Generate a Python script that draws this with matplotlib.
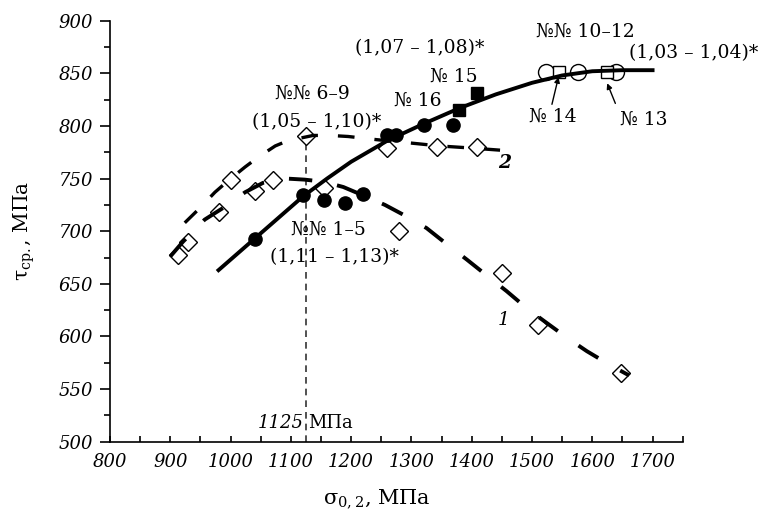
import matplotlib
matplotlib.use("Agg")
import matplotlib.pyplot as plt
from matplotlib.ticker import MultipleLocator

plt.rcParams['font.family'] = ['DejaVu Serif']
plt.rcParams['mathtext.fontset'] = 'dejavuserif'
plt.rcParams['mathtext.default'] = 'regular'

# ---- data ----
diamond_x = [913, 930, 980, 1000, 1040, 1070, 1125, 1155, 1260, 1280, 1342, 1408, 1450, 1510, 1648]
diamond_y = [677, 690, 718, 749, 738, 749, 790, 741, 779, 700, 780, 780, 660, 611, 565]

fcirc_x = [1040, 1120, 1155, 1190, 1220, 1259, 1274, 1321, 1369]
fcirc_y = [693, 734, 730, 727, 735, 791, 791, 801, 801]

fsq_x = [1379, 1409]
fsq_y = [815, 831]

ocirc_x = [1524, 1577, 1640]
ocirc_y = [851, 851, 851]

osq_x = [1545, 1625]
osq_y = [851, 851]

# curve 1 (dashed)
c1_x = [900, 921, 957, 990, 1024, 1054, 1093, 1123, 1154, 1187, 1220, 1256, 1292, 1325,
        1358, 1392, 1427, 1458, 1493, 1524, 1560, 1591, 1629, 1661]
c1_y = [676, 690, 711, 723, 737, 746, 750, 749, 747, 742, 734, 725, 714, 703,
        688, 673, 657, 643, 626, 613, 598, 586, 573, 563]

# curve 2 (dashed)
c2_x = [924, 949, 974, 996, 1024, 1045, 1074, 1095, 1137, 1165, 1195, 1242, 1295, 1347, 1400, 1447]
c2_y = [708, 722, 737, 748, 761, 770, 781, 786, 791, 791, 790, 787, 784, 781, 779, 777]

# solid curve
cs_x = [980, 1040, 1080, 1120, 1160, 1200, 1260, 1320, 1380, 1440, 1500, 1550, 1600, 1650, 1700]
cs_y = [663, 693, 713, 733, 750, 766, 786, 802, 817, 830, 841, 848, 852, 853, 853]

xticks = [800, 900, 1000, 1100, 1200, 1300, 1400, 1500, 1600, 1700]
yticks = [500, 550, 600, 650, 700, 750, 800, 850, 900]

fig = plt.figure(figsize=(7.64, 5.18), dpi=100)
ax = fig.add_axes([0.144, 0.1473, 0.7496, 0.8127])
ax.set_xlim(800, 1750)
ax.set_ylim(500, 900)

for s in ['top', 'right']:
    ax.spines[s].set_visible(False)
for s in ['left', 'bottom']:
    ax.spines[s].set_linewidth(1.2)

ax.set_xticks(xticks)
ax.set_yticks(yticks)
ax.xaxis.set_minor_locator(MultipleLocator(50))
ax.yaxis.set_minor_locator(MultipleLocator(25))
ax.tick_params(axis='x', which='major', direction='in', length=4, width=1.2, pad=8, labelsize=13)
ax.tick_params(axis='x', which='minor', direction='in', length=4, width=1.2)
ax.tick_params(axis='y', which='major', direction='out', length=7, width=1.2, pad=5, labelsize=13)
ax.tick_params(axis='y', which='minor', direction='out', length=4, width=1.2)
for lab in ax.get_xticklabels() + ax.get_yticklabels():
    lab.set_fontstyle('italic')

# vertical reference line
ax.plot([1125, 1125], [500, 790], color='#333333', lw=1.2, dashes=(4, 3), zorder=1)

# open markers
ax.plot(diamond_x, diamond_y, 'D', ms=9.5, mfc='white', mec='black', mew=1.0, ls='none', zorder=2)
ax.plot(ocirc_x, ocirc_y, 'o', ms=11.5, mfc='white', mec='black', mew=1.0, ls='none', zorder=2)
ax.plot(osq_x, osq_y, 's', ms=9, mfc='white', mec='black', mew=1.0, ls='none', zorder=2)

# curves
ax.plot(c1_x, c1_y, color='black', lw=2.8, dashes=(6, 6.5), solid_capstyle='butt', zorder=3)
ax.plot(c2_x, c2_y, color='black', lw=2.4, dashes=(5, 6), zorder=3)
ax.plot(cs_x, cs_y, color='black', lw=2.8, zorder=3)

# filled markers
ax.plot(fcirc_x, fcirc_y, 'o', ms=9.5, color='black', ls='none', zorder=4)
ax.plot(fsq_x, fsq_y, 's', ms=9, color='black', ls='none', zorder=4)

fs = 13.5
ax.text(1136, 831, '№№ 6–9', ha='center', va='center', fontsize=fs)
ax.text(1142, 804, '(1,05 – 1,10)*', ha='center', va='center', fontsize=fs)
ax.text(1314, 874, '(1,07 – 1,08)*', ha='center', va='center', fontsize=fs)
ax.text(1371, 847, '№ 15', ha='center', va='center', fontsize=fs)
ax.text(1310, 824, '№ 16', ha='center', va='center', fontsize=fs)
ax.text(1588, 890, '№№ 10–12', ha='center', va='center', fontsize=fs)
ax.text(1768, 869, '(1,03 – 1,04)*', ha='center', va='center', fontsize=fs, clip_on=False)
ax.text(1534, 809, '№ 14', ha='center', va='center', fontsize=fs)
ax.text(1685, 806, '№ 13', ha='center', va='center', fontsize=fs)
ax.text(1163, 701, '№№ 1–5', ha='center', va='center', fontsize=fs)
ax.text(1172, 675, '(1,11 – 1,13)*', ha='center', va='center', fontsize=fs)
ax.text(1455, 765, '2', ha='center', va='center', fontsize=fs, fontstyle='italic', fontweight='bold')
ax.text(1453, 616, '1', ha='center', va='center', fontsize=fs, fontstyle='italic')
ax.text(1122, 518, '1125', ha='right', va='center', fontsize=13, fontstyle='italic')
ax.text(1129, 518, 'МПа', ha='left', va='center', fontsize=13)

ax.annotate('', xy=(1545, 849), xytext=(1532, 818),
            arrowprops=dict(arrowstyle='-|>', color='black', lw=1.0, mutation_scale=8), zorder=5)
ax.annotate('', xy=(1623, 843), xytext=(1640, 819),
            arrowprops=dict(arrowstyle='-|>', color='black', lw=1.0, mutation_scale=8), zorder=5)

ax.set_xlabel('σ$_{0,2}$, МПа', fontsize=15)
ax.xaxis.set_label_coords(0.466, -0.108)
ax.set_ylabel('τ$_{ср.}$, МПа', fontsize=14.5)
ax.yaxis.set_label_coords(-0.128, 0.5)

fig.savefig('out.png', dpi=100)
